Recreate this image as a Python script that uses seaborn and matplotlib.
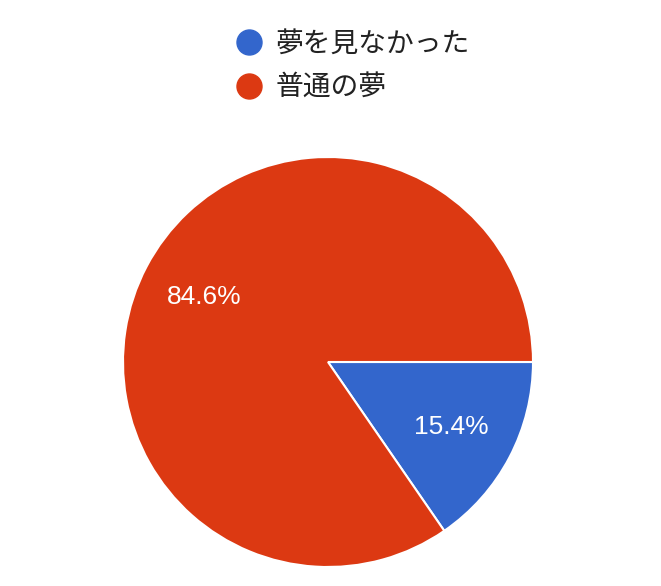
import matplotlib
matplotlib.use("Agg")
import matplotlib.pyplot as plt
from matplotlib.lines import Line2D
import seaborn as sns

labels = ["夢を見なかった", "普通の夢"]
values = [15.4, 84.6]
colors = ["#3366CC", "#DC3912"]

sns.set_theme(style="white")
plt.rcParams['font.family'] = ['Noto Sans CJK JP', 'DejaVu Sans']

W, H = 661, 586
fig = plt.figure(figsize=(W / 100, H / 100), dpi=100)
cx, cy, r = 328, 362, 205
ax = fig.add_axes([(cx - r) / W, (H - cy - r) / H, 2 * r / W, 2 * r / H])

wedges, texts, autotexts = ax.pie(
    values, colors=colors, startangle=0, counterclock=False,
    autopct="%.1f%%", pctdistance=0.68,
    wedgeprops=dict(edgecolor="white", linewidth=1.5),
    textprops=dict(color="white", fontsize=19, family=["Liberation Sans", "DejaVu Sans"]),
)
ax.set_xlim(-1, 1)
ax.set_ylim(-1, 1)
ax.set_aspect("auto")
ax.axis("off")

handles = [Line2D([0], [0], marker="o", linestyle="none", markersize=18,
                  markerfacecolor=c, markeredgecolor=c) for c in colors]
fig.legend(handles, labels, loc="upper left", bbox_to_anchor=(235 / W, 1 - 29 / H),
           frameon=False, fontsize=20, labelcolor="#222222", borderpad=0,
           borderaxespad=0, handlelength=1.0, handletextpad=0.45, labelspacing=0.48)

fig.savefig("out.png", dpi=100, facecolor="white")
